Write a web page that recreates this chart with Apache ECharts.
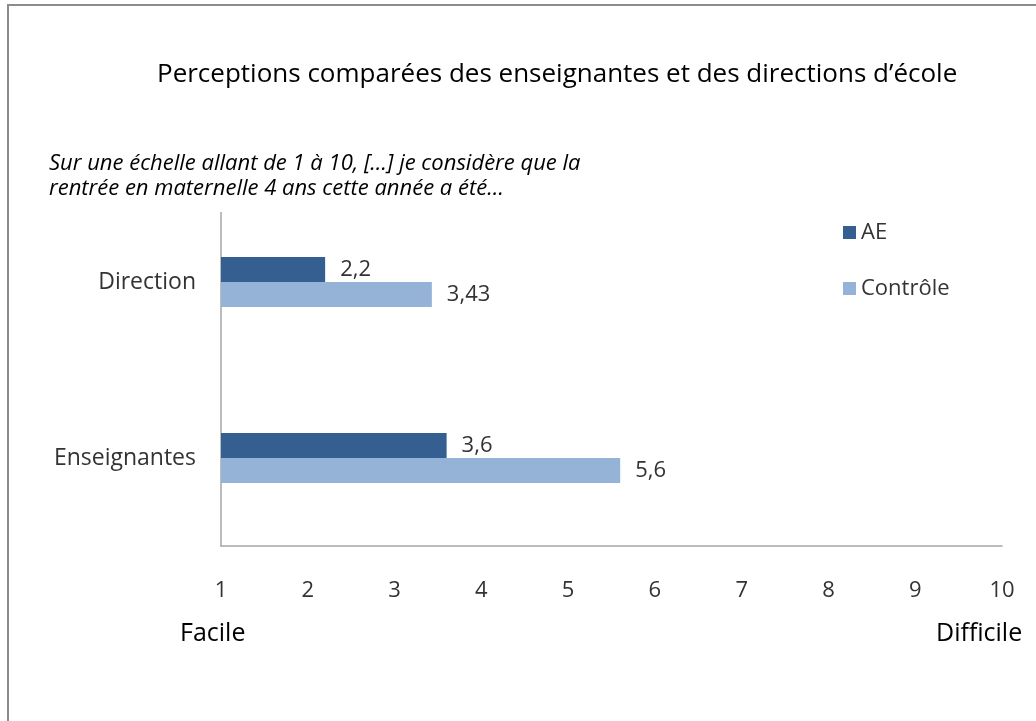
<!DOCTYPE html>
<html>
<head>
<meta charset="utf-8">
<script src="https://cdn.jsdelivr.net/npm/echarts@6/dist/echarts.min.js"></script>
<style>
html,body{margin:0;padding:0;background:#fff;}
#chart{width:1036px;height:721px;position:relative;}
#frame{position:absolute;left:7px;top:4px;right:0;bottom:0;border-left:2px solid #8c8c8c;border-top:2px solid #8c8c8c;pointer-events:none;}
</style>
</head>
<body>
<div id="chart"></div>
<div id="frame"></div>
<script>
const categories = ['Enseignantes', 'Direction'];
const seriesNames = ['AE', 'Contrôle'];
const aeValues = [3.6, 2.2];
const controleValues = [5.6, 3.43];
const xTicks = [1, 2, 3, 4, 5, 6, 7, 8, 9, 10];
const colors = ['#355E91', '#95B3D7'];

const FONT = 'Open Sans';
const chart = echarts.init(document.getElementById('chart'));
const fmt = p => String(p.value).replace('.', ',');
const labelStyle = {show: true, position: 'right', distance: 15, fontSize: 22, color: '#333', fontFamily: FONT, formatter: fmt};

chart.setOption({
  animation: false,
  textStyle: {fontFamily: FONT},
  title: {
    text: 'Perceptions comparées des enseignantes et des directions d’école',
    left: 152, top: 57,
    textStyle: {fontSize: 26, fontWeight: 'normal', color: '#000', fontFamily: FONT}
  },
  legend: {
    orient: 'vertical', left: 838, top: 215,
    itemWidth: 13, itemHeight: 13, itemGap: 31,
    icon: 'rect',
    textStyle: {fontSize: 22, color: '#333', fontFamily: FONT, lineHeight: 25},
    data: seriesNames
  },
  grid: {left: 221, right: 34, top: 194, bottom: 175, containLabel: false},
  xAxis: {
    type: 'value', min: xTicks[0], max: xTicks[xTicks.length - 1], interval: 1,
    axisLine: {show: true, lineStyle: {color: '#a6a6a6', width: 1.5}},
    axisTick: {show: false},
    splitLine: {show: false},
    axisLabel: {fontSize: 22, color: '#333', margin: 34, fontFamily: FONT,
      formatter: v => xTicks.includes(v) ? String(v) : ''}
  },
  yAxis: {
    type: 'category', data: categories,
    axisLine: {show: true, lineStyle: {color: '#a6a6a6', width: 1.5}},
    axisTick: {show: false},
    axisLabel: {fontSize: 23, color: '#333', margin: 25, fontFamily: FONT}
  },
  series: [
    {name: seriesNames[0], type: 'bar', data: aeValues, barWidth: 25, barGap: '0%',
      itemStyle: {color: colors[0]}, label: labelStyle},
    {name: seriesNames[1], type: 'bar', data: controleValues, barWidth: 25,
      itemStyle: {color: colors[1]}, label: labelStyle}
  ],
  graphic: [
    {type: 'rect', shape: {x: 214, y: 190, width: 14, height: 22}, style: {fill: '#fff'}, z: 100},
    {type: 'text', left: 49, top: 151, z: 101,
      style: {text: 'Sur une échelle allant de 1 à 10, […] je considère que la\nrentrée en maternelle 4 ans cette année a été…',
        font: 'italic 22px "Open Sans"', fill: '#000', lineHeight: 25}},
    {type: 'text', left: 180, top: 621,
      style: {text: 'Facile', font: '25px "Open Sans"', fill: '#000'}},
    {type: 'text', left: 936, top: 621,
      style: {text: 'Difficile', font: '25px "Open Sans"', fill: '#000'}}
  ]
});
</script>
</body>
</html>
